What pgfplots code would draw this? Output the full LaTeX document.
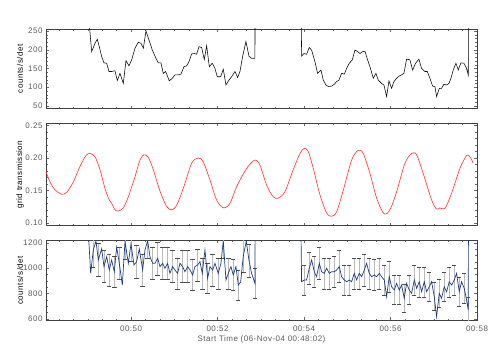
\documentclass[border=0pt]{standalone}
\usepackage{pgfplots}
\usepackage{pgfplotstable}
\pgfplotsset{compat=1.18}
\usepackage{fontspec}
\setmainfont{Liberation Sans}[LetterSpace=6]
\definecolor{lbl}{HTML}{5A5A5A}
\definecolor{navy}{RGB}{30,60,125}
\definecolor{rline}{HTML}{FF3030}

\pgfplotstableread{
t c
49.010 300
49.089 195
49.166 217
49.220 228
49.266 208
49.320 182
49.374 165
49.436 164
49.490 142
49.551 142
49.628 144
49.682 118
49.744 137
49.821 110
49.883 171
49.952 157
50.014 173
50.091 204
50.168 220
50.230 217
50.284 204
50.345 250
50.415 226
50.492 199
50.576 177
50.630 165
50.692 165
50.746 137
50.800 142
50.885 117
50.954 124
51.016 133
51.093 133
51.154 135
51.224 155
51.285 157
51.339 168
51.401 189
51.463 190
51.517 188
51.571 208
51.632 206
51.694 174
51.748 211
51.810 155
51.879 164
51.941 150
51.994 128
52.072 128
52.133 148
52.195 106
52.264 119
52.326 128
52.403 142
52.465 126
52.519 142
52.580 182
52.657 222
52.727 183
52.788 177
52.865 177
52.870 400
}\topA

\pgfplotstableread{
t c
53.929 400
53.944 183
53.998 190
54.060 188
54.122 206
54.176 199
54.253 168
54.314 137
54.391 146
54.445 119
54.507 106
54.561 102
54.638 103
54.700 108
54.754 115
54.808 119
54.869 137
54.931 135
54.985 150
55.047 164
55.116 173
55.178 199
55.231 196
55.293 190
55.355 195
55.409 196
55.470 173
55.524 155
55.601 124
55.663 137
55.717 119
55.794 110
55.848 106
55.910 75
55.964 117
56.025 97
56.079 115
56.141 124
56.203 130
56.257 133
56.310 137
56.372 175
56.449 173
56.511 146
56.580 164
56.657 175
56.719 150
56.796 142
56.850 142
56.912 124
56.973 103
57.027 102
57.066 75
57.127 97
57.181 97
57.235 108
57.297 106
57.351 110
57.397 124
57.451 146
57.513 164
57.567 146
57.628 165
57.698 164
57.759 150
57.798 133
57.802 400
}\topB

\pgfplotstableread{
t g
48.033 0.179
48.126 0.163
48.241 0.151
48.396 0.144
48.512 0.147
48.665 0.163
48.819 0.187
48.958 0.204
49.051 0.207
49.166 0.202
49.282 0.182
49.397 0.153
49.497 0.135
49.552 0.130
49.629 0.120
49.705 0.118
49.821 0.123
49.936 0.140
50.091 0.171
50.207 0.197
50.299 0.205
50.399 0.201
50.514 0.182
50.669 0.149
50.824 0.125
50.940 0.120
51.055 0.127
51.208 0.153
51.402 0.192
51.555 0.200
51.670 0.194
51.825 0.166
51.980 0.135
52.133 0.123
52.288 0.130
52.443 0.156
52.674 0.184
52.866 0.197
52.981 0.189
53.136 0.158
53.289 0.140
53.404 0.138
53.559 0.148
53.751 0.182
53.906 0.207
54.006 0.215
54.098 0.210
54.214 0.184
54.369 0.143
54.523 0.115
54.639 0.110
54.755 0.117
54.907 0.150
55.102 0.197
55.254 0.212
55.370 0.207
55.525 0.176
55.680 0.138
55.848 0.114
55.987 0.120
56.142 0.148
56.334 0.192
56.489 0.207
56.604 0.205
56.757 0.176
56.951 0.135
57.067 0.121
57.143 0.123
57.259 0.122
57.414 0.146
57.606 0.184
57.761 0.204
57.837 0.202
57.913 0.192
}\grid

\pgfplotstableread{
t c e
49.010 1300 0
49.066 959 122
49.127 1143 134
49.189 1214 138
49.243 1064 129
49.320 1152 134
49.374 1012 126
49.436 1090 130
49.497 985 124
49.551 1064 129
49.613 972 123
49.667 1165 135
49.729 1038 127
49.798 867 116
49.860 1210 138
49.937 1038 127
49.998 1190 136
50.068 1025 127
50.129 1051 128
50.191 1152 134
50.268 985 124
50.322 1143 134
50.384 1215 138
50.438 1090 130
50.499 1038 127
50.553 1038 127
50.615 1077 130
50.669 1012 126
50.731 1038 127
50.784 999 125
50.846 1038 127
50.900 959 122
50.962 1012 126
51.016 985 124
51.077 959 122
51.131 1038 127
51.193 1012 126
51.247 972 123
51.309 1012 126
51.363 985 124
51.424 946 122
51.478 1012 126
51.540 1025 127
51.594 1051 128
51.648 959 122
51.709 1143 134
51.771 920 120
51.825 1012 126
51.887 985 124
51.941 1038 127
52.018 959 122
52.079 1038 127
52.133 1215 138
52.195 907 119
52.249 959 122
52.310 1012 126
52.364 946 122
52.426 1012 126
52.480 867 116
52.534 890 118
52.596 1095 131
52.665 1212 138
52.727 1060 129
52.788 959 122
52.865 880 117
52.870 1300 0
}\botA

\pgfplotstableread{
t c e
53.929 1300 0
53.944 893 118
54.006 907 119
54.060 907 119
54.122 999 125
54.176 1064 129
54.237 972 123
54.291 933 121
54.353 1038 127
54.407 972 123
54.468 959 122
54.522 999 125
54.584 959 122
54.638 972 123
54.700 972 123
54.754 985 124
54.815 1012 126
54.869 933 121
54.931 907 119
54.985 893 118
55.047 907 119
55.100 893 118
55.162 959 122
55.216 907 119
55.278 959 122
55.332 933 121
55.393 985 124
55.447 1038 127
55.509 959 122
55.563 933 121
55.625 946 122
55.678 933 121
55.740 959 122
55.794 933 121
55.856 907 119
55.910 776 110
55.971 933 121
56.025 854 116
56.087 828 114
56.141 880 117
56.203 828 114
56.257 867 116
56.318 763 109
56.372 880 117
56.434 828 114
56.488 802 112
56.550 907 119
56.604 841 115
56.665 893 118
56.719 815 113
56.781 893 118
56.835 815 113
56.896 854 116
56.950 893 118
57.012 776 110
57.066 618 98
57.127 802 112
57.181 763 109
57.243 854 116
57.297 815 113
57.359 893 118
57.413 867 116
57.474 907 119
57.528 959 122
57.590 815 113
57.644 893 118
57.705 841 115
57.759 750 108
57.798 671 102
57.802 1300 0
}\botB

\pgfplotsset{
  every axis/.append style={
    scale only axis, width=431pt,
    xmin=48.0333, xmax=58.0,
    axis line style={black!75, line width=0.5pt},
    tick style={black!60, line width=0.4pt},
    major tick length=3pt, minor tick length=1.7pt,
    tick align=inside,
    xtick={50,52,54,56,58},
    minor xtick={48.33333,48.66667,...,57.9},
    font=\fontsize{8}{9.6}\selectfont,
    tick label style={text=lbl},
    label style={text=lbl},
    every axis y label/.style={at={(axis description cs:-0.0603,0.5)}, rotate=90, anchor=center},
  },
  ebar/.style={draw=none, mark=none, forget plot, each nth point=2, filter discard warning=false,
    error bars/.cd, y dir=both, y explicit,
    error bar style={draw=black!28, line width=0.8pt},
    error mark=-,
    error mark options={draw=black!70, rotate=90, mark size=2.2pt, line width=0.5pt}},
}

\begin{document}
\begin{tikzpicture}
\path[use as bounding box] (0,0) rectangle (491pt,-350pt);

% top panel
\begin{axis}[at={(46pt,-29pt)}, anchor=north west, height=79.7pt,
  ymin=42.8, ymax=255.3, ytick={50,100,150,200,250}, yticklabels={50,100,150,200,250},
  minor y tick num=4, xticklabels={}, ylabel={counts/s/det}]
\addplot[black, line width=0.55pt] table[x=t, y=c] {\topA};
\addplot[black, line width=0.55pt] table[x=t, y=c] {\topB};
\end{axis}

% middle panel
\begin{axis}[at={(46pt,-123.3pt)}, anchor=north west, height=102.4pt,
  ymin=0.0954, ymax=0.2537, ytick={0.10,0.15,0.20,0.25}, yticklabels={0.10,0.15,0.20,0.25},
  minor y tick num=4, xticklabels={}, ylabel={grid transmission}]
\addplot[rline, line width=0.6pt, smooth] table[x=t, y=g] {\grid};
\end{axis}

% bottom panel
\begin{axis}[at={(46pt,-240.3pt)}, anchor=north west, height=80pt,
  ymin=590, ymax=1219, ytick={600,800,1000,1200}, yticklabels={600,800,1000,1200},
  minor y tick num=3, ylabel={counts/s/det},
  xticklabels={00:50,00:52,00:54,00:56,00:58},
  xticklabel style={yshift=-2pt},
  xlabel={Start Time (06-Nov-04 00:48:02)},
  xlabel style={at={(axis description cs:0.5,-0.234)}, anchor=center}]
\addplot[ebar] table[x=t, y=c, y error=e] {\botA};
\addplot[ebar] table[x=t, y=c, y error=e] {\botB};
\addplot[navy, line width=0.7pt, mark=none] table[x=t, y=c] {\botA};
\addplot[navy, line width=0.7pt, mark=none] table[x=t, y=c] {\botB};
\end{axis}
\end{tikzpicture}
\end{document}
